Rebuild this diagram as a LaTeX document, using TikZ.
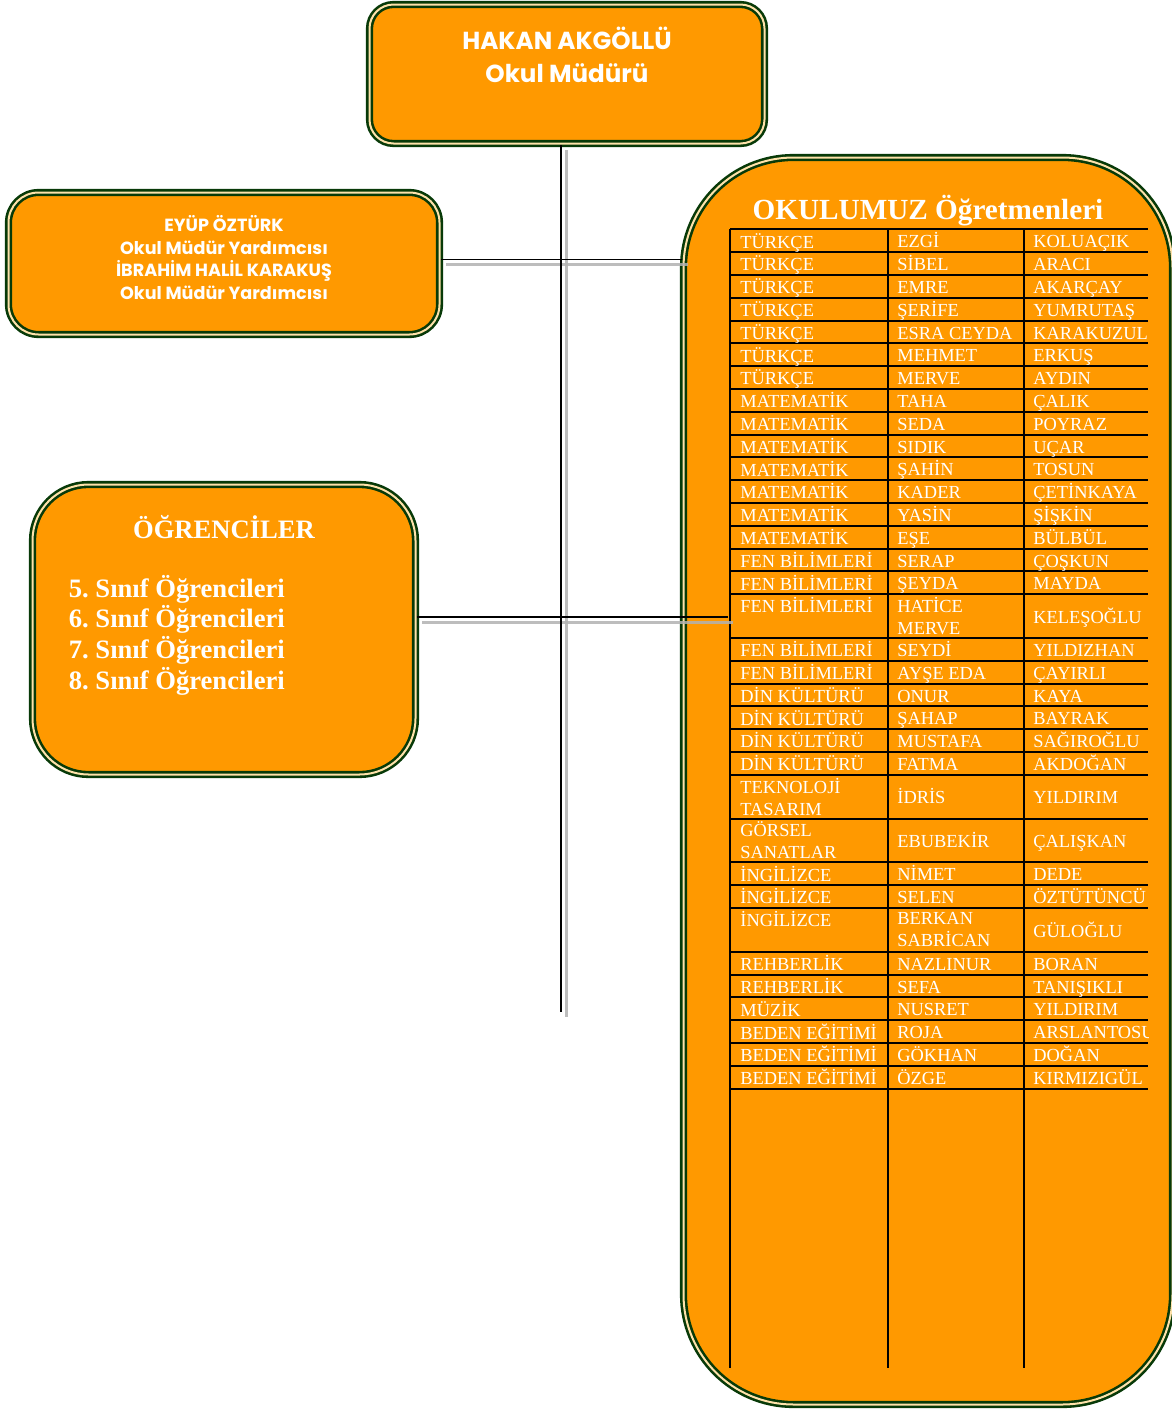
\documentclass[tikz,border=0pt]{standalone}
\usepackage{fontspec}
\setmainfont{Liberation Serif}
\newfontfamily\kutufont{Poppins}
\usepackage{xcolor}
\usepackage{tikz}
\usetikzlibrary{calc}
\usetikzlibrary{positioning}
\definecolor{turuncu}{RGB}{255,153,0}
\definecolor{koyuyesil}{RGB}{8,58,8}
\definecolor{acik}{RGB}{255,226,170}
\definecolor{golge}{RGB}{178,178,178}
\tikzset{>=latex}
\tikzstyle{kutu} = [draw=koyuyesil, line width=1.3pt, double=acik, double distance=1pt, fill=turuncu, inner sep=0]
\tikzstyle{cizgi} = [draw=black, line width=0.8pt]
\tikzstyle{golgecizgi} = [draw=golge, line width=1.5pt, opacity=0.85, transform canvas={xshift=2.7pt, yshift=-2.7pt}]
\tikzstyle{satir} = [draw=black, line width=1pt]
\tikzstyle{hucre} = [inner sep=0, text=white, font=\fontsize{9.2}{11}\selectfont, align=left, execute at begin node=\strut]
\newcommand{\ikisatir}[2]{#1\\\strut #2}
\frenchspacing

\begin{document}
\begin{tikzpicture}[x=0.5pt, y=-0.5pt]
\useasboundingbox (0,0) rectangle (1172,1409);

\node [kutu, rounded corners=55pt, minimum width=244.5pt, minimum height=623.5pt] (ogret) at (928, 781) {};
\node [kutu, rounded corners=12pt, minimum width=197.5pt, minimum height=69.5pt] (mudur) at (567, 74) {};
\node [kutu, rounded corners=15pt, minimum width=215.5pt, minimum height=71pt] (yard) at (224, 263.5) {};
\node [kutu, rounded corners=28pt, minimum width=191.5pt, minimum height=145pt] (ogr) at (224, 629.5) {};

\node [text=white, font=\kutufont\bfseries\fontsize{12.3}{16.5}\selectfont, align=center] (mudurad) at ([yshift=-26pt]mudur.north) {HAKAN AKGÖLLÜ\\Okul Müdürü};
\node [text=white, font=\kutufont\bfseries\fontsize{8.8}{11.2}\selectfont, align=center] (yardad) at ([yshift=3pt]yard.center) {EYÜP ÖZTÜRK\\Okul Müdür Yardımcısı\\İBRAHİM HALİL KARAKUŞ\\Okul Müdür Yardımcısı};
\node [text=white, font=\bfseries\fontsize{13.3}{16}\selectfont] (ogrbaslik) at ([yshift=-21.75pt]ogr.north) {ÖĞRENCİLER};
\node [text=white, font=\bfseries\fontsize{13.3}{15.3}\selectfont, align=left, anchor=west] (ogrliste) at ([xshift=15.3pt, yshift=-2.75pt]ogr.west) {5. Sınıf Öğrencileri\\6. Sınıf Öğrencileri\\7. Sınıf Öğrencileri\\8. Sınıf Öğrencileri};
\node [text=white, font=\bfseries\fontsize{14.6}{17}\selectfont, anchor=base] (ogretbaslik) at ([yshift=-31.75pt]ogret.north) {OKULUMUZ Öğretmenleri};

\draw [satir] (730,229.3) -- (1148,229.3);
\foreach \x in {730,888,1024}
  \draw [satir] (\x,229.3) -- (\x,1367.7);
\begin{scope}
\clip (729,220) rectangle (1148,1100);
\foreach \ust/\yuk/\ders/\ad/\soyad [count=\i] in {
  229.3/22.8/TÜRKÇE/EZGİ/KOLUAÇIK,
  252.1/22.8/TÜRKÇE/SİBEL/ARACI,
  274.9/22.8/TÜRKÇE/EMRE/AKARÇAY,
  297.7/22.8/TÜRKÇE/ŞERİFE/YUMRUTAŞ,
  320.5/22.8/TÜRKÇE/ESRA CEYDA/KARAKUZUL,
  343.3/22.8/TÜRKÇE/MEHMET/ERKUŞ,
  366.1/22.8/TÜRKÇE/MERVE/AYDIN,
  388.9/22.8/MATEMATİK/TAHA/ÇALIK,
  411.7/22.8/MATEMATİK/SEDA/POYRAZ,
  434.5/22.8/MATEMATİK/SIDIK/UÇAR,
  457.3/22.8/MATEMATİK/ŞAHİN/TOSUN,
  480.1/22.8/MATEMATİK/KADER/ÇETİNKAYA,
  502.9/22.8/MATEMATİK/YASİN/ŞİŞKİN,
  525.7/22.8/MATEMATİK/EŞE/BÜLBÜL,
  548.5/22.8/FEN BİLİMLERİ/SERAP/ÇOŞKUN,
  571.3/22.8/FEN BİLİMLERİ/ŞEYDA/MAYDA,
  594.1/43.8/FEN BİLİMLERİ/\ikisatir{HATİCE}{MERVE}/KELEŞOĞLU,
  637.9/22.8/FEN BİLİMLERİ/SEYDİ/YILDIZHAN,
  660.7/22.8/FEN BİLİMLERİ/AYŞE EDA/ÇAYIRLI,
  683.5/22.8/DİN KÜLTÜRÜ/ONUR/KAYA,
  706.3/22.8/DİN KÜLTÜRÜ/ŞAHAP/BAYRAK,
  729.1/22.8/DİN KÜLTÜRÜ/MUSTAFA/SAĞIROĞLU,
  751.9/22.8/DİN KÜLTÜRÜ/FATMA/AKDOĞAN,
  774.7/43.8/\ikisatir{TEKNOLOJİ}{TASARIM}/İDRİS/YILDIRIM,
  818.5/43.8/\ikisatir{GÖRSEL}{SANATLAR}/EBUBEKİR/ÇALIŞKAN,
  862.3/22.8/İNGİLİZCE/NİMET/DEDE,
  885.1/22.8/İNGİLİZCE/SELEN/ÖZTÜTÜNCÜ,
  907.9/43.8/İNGİLİZCE/\ikisatir{BERKAN}{SABRİCAN}/GÜLOĞLU,
  951.7/22.8/REHBERLİK/NAZLINUR/BORAN,
  974.5/22.8/REHBERLİK/SEFA/TANIŞIKLI,
  997.3/22.8/MÜZİK/NUSRET/YILDIRIM,
  1020.1/22.8/BEDEN EĞİTİMİ/ROJA/ARSLANTOSU,
  1042.9/22.8/BEDEN EĞİTİMİ/GÖKHAN/DOĞAN,
  1065.7/22.8/BEDEN EĞİTİMİ/ÖZGE/KIRMIZIGÜL} {
  \draw [satir] (730,{\ust+\yuk}) -- (1148,{\ust+\yuk});
  \node [hucre, anchor=north west] (ders\i) at (740,{\ust+3}) {\ders};
  \node [hucre, anchor=west] (ad\i) at (897,{\ust+\yuk/2+2.8}) {\ad};
  \node [hucre, anchor=west] (soyad\i) at (1033,{\ust+\yuk/2+2.8}) {\soyad};
}
\end{scope}

\coordinate (govde) at (561,1012);
\coordinate (ogrson) at (728,617);
\draw [golgecizgi] (mudur.south -| govde) -- (govde);
\draw [golgecizgi] ([yshift=2pt]yard.east) -- ([yshift=2pt]yard.east -| ogret.west);
\draw [golgecizgi] (ogr.east |- ogrson) -- (ogrson);
\draw [cizgi] (mudur.south -| govde) -- (govde);
\draw [cizgi] ([yshift=2pt]yard.east) -- ([yshift=2pt]yard.east -| ogret.west);
\draw [cizgi] (ogr.east |- ogrson) -- (ogrson);
\end{tikzpicture}
\end{document}
